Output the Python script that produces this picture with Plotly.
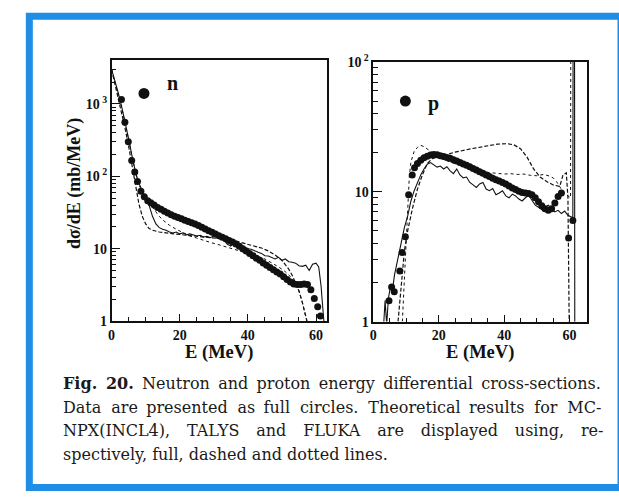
import plotly.graph_objects as go

W, H = 619, 497

# ---------------- neutron spectrum ----------------
n_data_E = [2.9, 3.9, 4.9, 5.9, 6.8, 7.6, 8.6, 9.6, 10.6, 11.5, 12.5, 13.5, 14.5, 15.5, 16.5,
            17.5, 18.5, 19.5, 20.5, 21.5, 22.5, 23.5, 24.5, 25.5, 26.5, 27.5, 28.5, 29.5, 30.5,
            31.5, 32.5, 33.5, 34.5, 35.5, 36.5, 37.5, 38.5, 39.5, 40.5, 41.5, 42.5, 43.5, 44.5,
            45.5, 46.5, 47.5, 48.5, 49.5, 50.5, 51.5, 52.5, 53.5, 54.5, 55.5, 56.5, 57.5,
            58.5, 59.5, 60.5, 61.3]
n_data_v = [1150, 560, 300, 165, 115, 85, 62, 52, 46, 43, 40, 37, 35, 33, 31,
            29.5, 28, 27, 26, 24.8, 23.8, 22.8, 21.9, 20.9, 19.8, 18.7, 17.7, 16.8, 15.9,
            15.1, 14.4, 13.7, 13.0, 12.4, 11.6, 10.8, 10.0, 9.3, 8.6, 8.0, 7.4, 6.9, 6.35,
            5.9, 5.5, 5.1, 4.75, 4.45, 4.1, 3.75, 3.45, 3.25, 3.2, 3.2, 3.25, 3.2,
            2.7, 2.05, 1.58, 1.17]

n_mcnpx_E = [0, 1, 2, 3, 4, 5, 6, 7, 8, 9, 10, 11, 12, 13, 14, 15, 16, 17, 18, 19, 20, 21, 22,
             23, 24, 25, 26, 27, 28, 29, 30, 31, 32, 33, 34, 35, 36, 37, 38, 39, 40, 41, 42,
             43, 44, 45, 46, 47, 48, 49, 50, 51, 52, 53, 54, 55, 56, 57, 58, 59, 60, 60.8,
             61.5, 62.0, 62.4]
n_mcnpx_v = [3000, 2100, 1400, 900, 560, 330, 190, 115, 80, 62, 50, 40, 28, 22, 19.5, 18.5,
             18, 17, 16.5, 17, 16, 16.5, 15.5, 16, 15.5, 15, 15.3, 14.5, 14.8, 14.2, 15.0,
             14.6, 14.0, 13.0, 11.5, 10.9, 12.2, 11.8, 11.2, 10.6, 10.0, 9.8, 9.3, 8.9, 8.6,
             8.0, 7.9, 7.5, 7.2, 7.6, 6.9, 7.2, 6.6, 6.5, 6.3, 5.8, 5.7, 5.9, 5.0, 6.1, 6.3,
             5.6, 3.0, 1.5, 0.9]

n_talys_E = [0, 1, 2, 3, 4, 5, 6, 7, 8, 9, 10, 11, 12, 14, 16, 18, 20, 22, 24, 26, 28, 30,
             32, 34, 36, 38, 40, 42, 44, 46, 48, 50, 52, 53, 54, 55, 56, 57, 57.6]
n_talys_v = [3000, 1900, 1200, 750, 450, 260, 140, 75, 42, 28, 22, 19, 18, 17, 16.5, 16,
             15.6, 15.3, 15, 14.7, 14.5, 14.2, 13.9, 13.4, 12.9, 12.2, 11.5, 10.9, 10.2, 9.3,
             8.2, 6.9, 5.2, 4.3, 3.4, 2.6, 1.8, 1.2, 0.9]

n_fluka_E = [0, 1, 2, 3, 4, 5, 6, 7, 8, 9, 10, 11, 12, 13, 14, 15, 17, 19, 21, 23, 25, 27,
             29, 31, 33, 35, 37, 39, 41, 43, 45, 47, 49, 51, 53, 54, 55, 56, 57, 57.5]
n_fluka_v = [3000, 2000, 1350, 870, 540, 320, 185, 112, 78, 60, 50, 43, 37, 32, 28, 25, 21,
             18.5, 16.5, 15, 14, 13, 12.2, 11.5, 10.8, 10.2, 9.6, 9.0, 8.4, 7.8, 7.2, 6.4,
             5.6, 4.8, 3.9, 3.3, 2.6, 1.8, 1.2, 0.9]

# ---------------- proton spectrum ----------------
p_data_E = [4.8, 5.6, 6.4, 8.1, 8.8, 9.8, 10.8, 11.9, 12.6, 13.5, 14.5, 15.5, 16.5, 17.5,
            18.5, 19.5, 20.5, 21.5, 22.5, 23.5, 24.5, 25.5, 26.5, 27.5, 28.5, 29.5, 30.5,
            31.5, 32.5, 33.5, 34.5, 35.5, 36.5, 37.5, 38.5, 39.5, 40.5, 41.5, 42.5, 43.5,
            44.5, 45.5, 46.5, 47.5, 48.5, 49.5, 50.5, 51.5, 52.5, 53.5, 54.5, 55.5, 56.5,
            57.5, 59.7, 61.0]
p_data_v = [1.45, 1.85, 1.7, 2.45, 3.4, 4.5, 9.5, 13.5, 15.3, 16.5, 17.5, 18.3, 18.8, 19.2,
            19.4, 19.3, 19.0, 18.7, 18.4, 18.1, 17.7, 17.3, 16.8, 16.4, 16.0, 15.6, 15.1,
            14.7, 14.3, 13.9, 13.5, 13.1, 12.7, 12.4, 12.1, 11.8, 11.5, 11.1, 10.7, 10.4,
            10.1, 9.9, 9.8, 9.7, 9.5, 9.0, 8.4, 7.8, 7.4, 7.2, 7.4, 8.2, 9.2,
            9.8, 4.4, 6.0]

p_mcnpx_E = [3.0, 3.6, 4.1, 4.6, 5.3, 5.8, 6.5, 7.5, 8.5, 9.5, 10.5, 11.5, 12.5, 13.5, 14.5,
             15.5, 16.5, 17.5, 18.5, 19.5, 20.5, 21.5, 22.5, 23.5, 24.5, 25.5, 26.5, 27.5,
             28.5, 29.5, 30.5, 31.5, 32.5, 33.5, 34.5, 35.5, 36.5, 37.5, 38.5, 39.5, 40.5,
             41.5, 42.5, 43.5, 44.5, 45.5, 46.5, 47.5, 48.5, 49.5, 50.5, 51.5, 52.5, 53.5,
             54.5, 55.5, 56.5, 57.5, 58.5, 59.5, 61.0, 61.1, 61.5, 61.6]
p_mcnpx_v = [0.8, 1.45, 0.95, 1.5, 1.9, 1.7, 2.3, 3.1, 4.2, 5.3, 6.5, 8.5, 10.2, 11.8, 13.5,
             15.0, 16.3, 16.8, 16.2, 15.5, 15.8, 15.0, 15.6, 14.5, 13.8, 15.0, 13.5, 12.8,
             13.0, 11.8, 11.3, 10.8, 11.5, 11.8, 10.5, 10.2, 10.6, 9.5, 9.8, 10.2, 9.3,
             9.0, 9.6, 9.3, 8.8, 8.5, 9.0, 9.4, 8.6, 7.9, 7.6, 7.3, 7.6, 7.9,
             7.4, 7.0, 7.2, 6.8, 7.1, 6.6, 6.3, 400, 400, 0.5]

p_talys_E = [7.4, 8.5, 9.5, 10.5, 12, 13.5, 15, 16.5, 18, 20, 22, 25, 30, 35, 38, 41, 43,
             45, 47, 49, 51, 53, 55, 57, 58, 59, 59.5, 59.9]
p_talys_v = [0.9, 2.0, 3.5, 5.0, 7.5, 10.5, 13.5, 16.5, 18.0, 18.7, 19.3, 20.2, 21.5, 22.7,
             23.3, 23.5, 23.0, 21.5, 18.5, 15.0, 13.0, 12.0, 11.3, 11.0, 13.5, 14.0, 9.0, 0.9]

p_fluka_E = [8.8, 9.5, 10, 10.5, 11, 11.5, 12.5, 13.5, 14.5, 15.5, 16.5, 17.5, 18.5, 20, 22,
             24, 26, 28, 30, 32, 34, 36, 38, 40, 42, 44, 46, 48, 50, 52, 54, 55, 56, 57,
             58, 59, 60.3, 60.4]
p_fluka_v = [0.9, 2.0, 4.0, 8.0, 13, 17, 20.5, 22, 22.8, 22.3, 21.5, 20.5, 19.5, 18.5, 17.5,
             16.8, 16.2, 15.6, 15.0, 14.5, 14.2, 14.0, 13.8, 13.7, 13.8, 13.6, 13.7, 13.4,
             13.3, 13.6, 13.2, 12.8, 12.0, 11.0, 10.0, 9.5, 9.0, 400]

# ---------------- axis labels ----------------
n_ytick_vals = [1, 10, 100, 1000]
n_ytick_text = ["1", "10", "10<sup> 2</sup>", "10<sup> 3</sup>"]
n_yminor_vals = [m * 10 ** d for d in range(0, 4) for m in range(2, 10)]
p_ytick_vals = [1, 10, 100]
p_ytick_text = ["1", "10", "10<sup> 2</sup>"]
p_yminor_vals = [m * 10 ** d for d in range(0, 2) for m in range(2, 10)]
x_tick_vals = [0, 20, 40, 60]
x_minor_vals = [5, 10, 15, 25, 30, 35, 45, 50, 55]

# caption words per line; the justified lines get extra inter-word padding
caption_words = [
    ["<b>Fig.", "20.</b>", "Neutron", "and", "proton", "energy", "differential",
     "cross-sections."],
    ["Data", "are", "presented", "as", "full", "circles.", "Theoretical", "results", "for",
     "MC-"],
    ["NPX(INCL4),", "TALYS", "and", "FLUKA", "are", "displayed", "using,", "re-"],
    ["spectively,", "full,", "dashed", "and", "dotted", "lines."],
]
caption_pad = [
    ["\u2009"] * 7,
    ["\u2009\u200a", "\u2009", "\u2009\u200a", "\u2009", "\u2009\u200a", "\u2009\u200a",
     "\u2009", "\u2009\u200a", "\u2009\u200a"],
    ["\u00a0\u00a0\u200a"] * 7,
    [""] * 5,
]

SERIF = "Liberation Serif"
CAPTION_FONT = "DejaVu Serif"
INK = "#111111"


def fx(x):
    return x / W


def fy(y):
    return 1 - y / H


fig = go.Figure()


def add_panel(xa, ya, data_E, data_v, mc_E, mc_v, ta_E, ta_v, fl_E, fl_v):
    fig.add_trace(go.Scatter(x=fl_E, y=fl_v, mode="lines", xaxis=xa, yaxis=ya,
                             line=dict(color=INK, width=1, dash="dot")))
    fig.add_trace(go.Scatter(x=ta_E, y=ta_v, mode="lines", xaxis=xa, yaxis=ya,
                             line=dict(color=INK, width=1.2, dash="4px,2px")))
    fig.add_trace(go.Scatter(x=mc_E, y=mc_v, mode="lines", xaxis=xa, yaxis=ya,
                             line=dict(color=INK, width=1.1)))
    fig.add_trace(go.Scatter(x=data_E, y=data_v, mode="markers", xaxis=xa, yaxis=ya,
                             marker=dict(color=INK, size=7, line=dict(width=0))))


add_panel("x", "y", n_data_E, n_data_v, n_mcnpx_E, n_mcnpx_v,
          n_talys_E, n_talys_v, n_fluka_E, n_fluka_v)
add_panel("x2", "y2", p_data_E, p_data_v, p_mcnpx_E, p_mcnpx_v,
          p_talys_E, p_talys_v, p_fluka_E, p_fluka_v)

tickfont = dict(family=SERIF, size=14, color=INK)
xcommon = dict(showline=True, mirror=True, linecolor=INK, linewidth=1.5,
               showgrid=False, zeroline=False, ticks="inside", ticklen=7,
               tickcolor=INK, tickwidth=1.2, tickmode="array", tickvals=x_tick_vals,
               ticktext=[f"<b>{v}</b>" for v in x_tick_vals], tickfont=tickfont,
               minor=dict(ticks="inside", ticklen=4, tickcolor=INK, tickwidth=1,
                          tickmode="array", tickvals=x_minor_vals, showgrid=False))


def ycommon(minor_vals):
    return dict(type="log", showline=True, mirror=True, linecolor=INK, linewidth=1.5,
                showgrid=False, zeroline=False, ticks="inside", ticklen=9,
                tickcolor=INK, tickwidth=1.2, tickfont=tickfont, tickmode="array",
                minor=dict(ticks="inside", ticklen=5, tickcolor=INK, tickwidth=1,
                           tickmode="array", tickvals=minor_vals, showgrid=False))


fig.update_layout(
    width=W, height=H,
    margin=dict(l=0, r=0, t=0, b=0),
    paper_bgcolor="white", plot_bgcolor="white",
    showlegend=False,
    xaxis=dict(domain=[fx(108.3), fx(325)], range=[0, 63.2], anchor="y", **xcommon),
    yaxis=dict(domain=[fy(322.7), fy(52.3)], range=[0, 3.602], anchor="x",
               tickvals=n_ytick_vals, ticktext=[f"<b>{t}</b>" for t in n_ytick_text],
               **ycommon(n_yminor_vals)),
    xaxis2=dict(domain=[fx(371.7), fx(586.7)], range=[0, 65.3], anchor="y2", **xcommon),
    yaxis2=dict(domain=[fy(323.3), fy(54)], range=[0, 2], anchor="x2",
                tickvals=p_ytick_vals, ticktext=[f"<b>{t}</b>" for t in p_ytick_text],
                **ycommon(p_yminor_vals)),
)

annotations = []
# axis titles
for cx in (216.6, 479.2):
    annotations.append(dict(x=fx(cx), y=fy(355), xref="paper", yref="paper",
                            xanchor="center", yanchor="middle",
                            text="<b>E (MeV)</b>", showarrow=False,
                            font=dict(family=SERIF, size=18.5, color=INK)))
annotations.append(dict(x=fx(71), y=fy(180), xref="paper", yref="paper",
                        xanchor="center", yanchor="middle",
                        text="<b>dσ/dE (mb/MeV)</b>", textangle=-90, showarrow=False,
                        font=dict(family=SERIF, size=18, color=INK)))
# panel tags
annotations.append(dict(x=fx(162), y=fy(76), xref="paper", yref="paper",
                        xanchor="left", yanchor="middle",
                        text="<b>n</b>", showarrow=False,
                        font=dict(family=SERIF, size=20, color=INK)))
annotations.append(dict(x=fx(425), y=fy(97), xref="paper", yref="paper",
                        xanchor="left", yanchor="middle",
                        text="<b>p</b>", showarrow=False,
                        font=dict(family=SERIF, size=20, color=INK)))
# caption
for i, (words, pads) in enumerate(zip(caption_words, caption_pad)):
    line = words[0]
    for w, pad in zip(words[1:], pads):
        line += " " + pad + w
    annotations.append(dict(x=fx(57), y=fy(388 + 24.3 * i), xref="paper", yref="paper",
                            xanchor="left", yanchor="middle", text=line, showarrow=False,
                            font=dict(family=CAPTION_FONT, size=16, color="#1a1a1a")))
fig.update_layout(annotations=annotations)

# tag markers
fig.add_trace(go.Scatter(x=[9.5], y=[1400], mode="markers", xaxis="x", yaxis="y",
                         marker=dict(color=INK, size=11, line=dict(width=0))))
fig.add_trace(go.Scatter(x=[9.8], y=[50], mode="markers", xaxis="x2", yaxis="y2",
                         marker=dict(color=INK, size=11, line=dict(width=0))))

# blue frame
fig.update_layout(shapes=[
    dict(type="rect", xref="paper", yref="paper", x0=fx(25.5), x1=fx(621), y0=fy(495.5),
         y1=fy(6.5), line=dict(color="#1f8ee6", width=7), fillcolor="rgba(0,0,0,0)",
         layer="above"),
])

fig.write_html("out.html")
